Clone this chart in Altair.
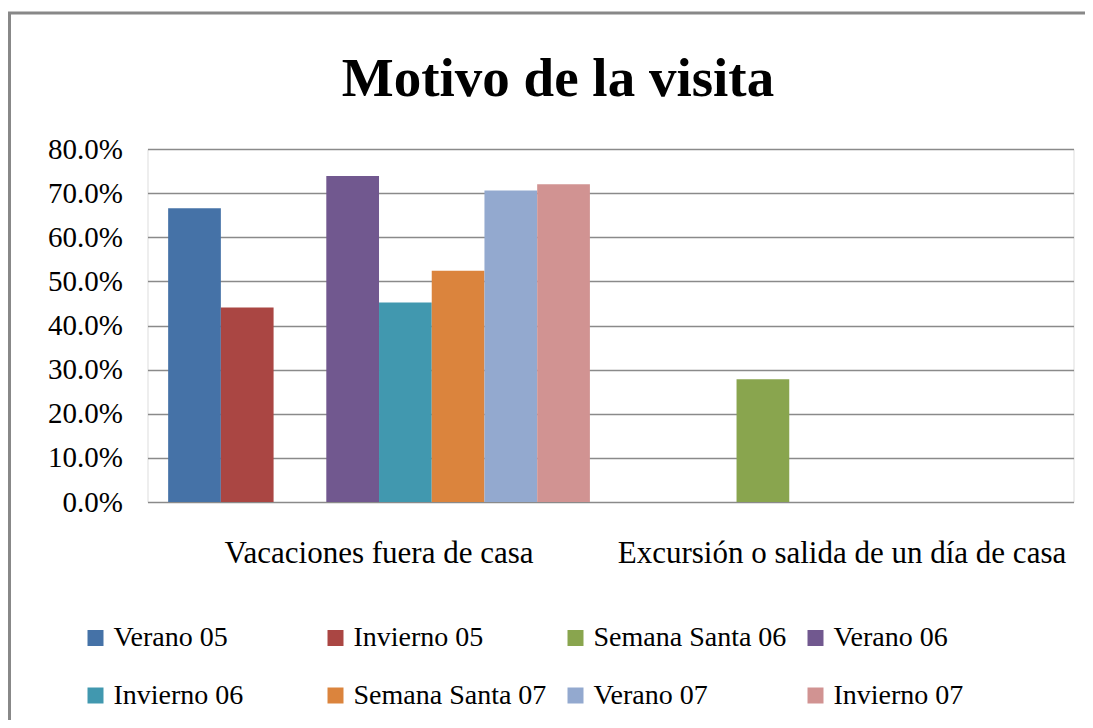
import altair as alt
import pandas as pd

# ---- data ----
titulo = "Motivo de la visita"
categorias = ["Vacaciones fuera de casa", "Excursión o salida de un día de casa"]
series = ["Verano 05", "Invierno 05", "Semana Santa 06", "Verano 06",
          "Invierno 06", "Semana Santa 07", "Verano 07", "Invierno 07"]
vacaciones = [0.666, 0.441, None, 0.739, 0.452, 0.524, 0.706, 0.720]
excursion = [None, None, 0.278, None, None, None, None, None]
colores = ["#4572A7", "#AA4643", "#89A54E", "#71588F",
           "#4198AF", "#DB843D", "#93A9CF", "#D19392"]
y_ticks = [0, 0.1, 0.2, 0.3, 0.4, 0.5, 0.6, 0.7, 0.8]

rows = []
for cat, vals in zip(categorias, [vacaciones, excursion]):
    for s, v in zip(series, vals):
        if v is not None:
            rows.append({"categoria": cat, "serie": s, "valor": v})
df = pd.DataFrame(rows)

FONT = "Liberation Serif"

bars = alt.Chart(df).mark_bar().encode(
    x=alt.X("categoria:N", sort=categorias,
            scale=alt.Scale(domain=categorias, paddingInner=0.089, paddingOuter=0.0446),
            axis=alt.Axis(title=None, labelAngle=0, domain=False, ticks=False,
                          labelFontSize=31, labelFont=FONT, labelColor="black",
                          labelPadding=36, labelLimit=800, grid=False)),
    xOffset=alt.XOffset("serie:N", sort=series,
                        scale=alt.Scale(domain=series, paddingInner=0, paddingOuter=0)),
    y=alt.Y("valor:Q",
            scale=alt.Scale(domain=[0, 0.8], nice=False),
            axis=alt.Axis(title=None, values=y_ticks, format=".1%", domain=False,
                          ticks=False, labelFontSize=29, labelFont=FONT,
                          labelColor="black", labelPadding=25,
                          gridColor="#8a8a8a", gridWidth=1.5)),
    color=alt.Color("serie:N", sort=series,
                    scale=alt.Scale(domain=series, range=colores),
                    legend=alt.Legend(title=None, orient="none", legendX=-66, legendY=475,
                                      direction="horizontal", columns=4, gridAlign="all",
                                      symbolType="square", symbolSize=256,
                                      symbolStrokeWidth=0, symbolOpacity=1,
                                      labelFontSize=28, labelFont=FONT,
                                      labelColor="black", labelOffset=4,
                                      columnPadding=15, rowPadding=29.5, padding=0,
                                      labelLimit=400)),
)

frame = alt.Chart(pd.DataFrame({"k": [0]})).mark_rect(
    fill=None, stroke="#888888", strokeWidth=3
).encode(
    x=alt.value(-138), x2=alt.value(960),
    y=alt.value(-136), y2=alt.value(600),
)

title = alt.Chart(pd.DataFrame({"t": [titulo]})).mark_text(
    font=FONT, fontSize=55, fontWeight="bold", color="black",
    align="center", baseline="alphabetic"
).encode(
    text="t:N", x=alt.value(410.5), y=alt.value(-53),
)

chart = alt.layer(frame, bars, title).properties(
    width=926, height=353,
    autosize=alt.AutoSizeParams(type="none"),
    padding={"left": 139.5, "top": 141, "right": 11.5, "bottom": 218},
).configure_view(stroke=None).configure(background="white")

chart.save("out.html", embed_options={"renderer": "svg", "actions": False})
